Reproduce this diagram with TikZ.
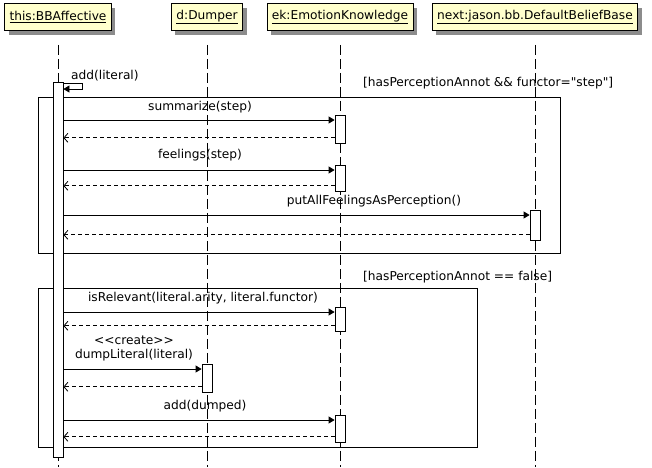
\documentclass[tikz,border=0pt]{standalone}
\usepackage{fontspec}
\newfontfamily\umlfont{DejaVu Sans}
\usetikzlibrary{arrows.meta,shadows}
\definecolor{headfill}{RGB}{255,255,204}

\begin{document}
\begin{tikzpicture}[x=1pt,y=-1pt,
  font=\umlfont\fontsize{12.2}{14}\selectfont,
  head/.style={draw,fill=headfill,line width=0.8pt,minimum height=27pt,inner xsep=5pt,
    drop shadow={shadow xshift=4pt,shadow yshift=-4pt,fill=black!45,opacity=1}},
  lifeline/.style={line width=0.8pt,dash pattern=on 10pt off 4pt},
  bar/.style={draw,fill=white,line width=0.8pt,minimum width=10pt,inner sep=0pt,anchor=north},
  msg/.style={line width=0.8pt,-{Triangle[length=6pt,width=7pt]}},
  ret/.style={line width=0.8pt,dash pattern=on 4pt off 3pt,-{Straight Barb[length=4pt,width=9pt]}},
  frame/.style={draw,line width=0.8pt},
  lbl/.style={inner sep=0pt}]
\useasboundingbox (0,0) rectangle (652,467);
\coordinate (bottom) at (0,467);

\node[head] (thisH) at (58,17) {\underline{this:BBAffective}};
\node[head] (dumpH) at (207,17) {\underline{d:Dumper}};
\node[head] (ekH) at (340,17) {\underline{ek:EmotionKnowledge}};
\node[head] (nextH) at (535,17) {\underline{next:jason.bb.DefaultBeliefBase}};

\foreach \h in {thisH,dumpH,ekH,nextH}
  \draw[lifeline] ([yshift=-14pt]\h.south) -- (\h.south |- bottom);

\draw[frame] (38,97) rectangle (560,253);
\draw[frame] (38,288) rectangle (477,447);
\node[lbl,anchor=west] (cond1) at (363,83) {[hasPerceptionAnnot \&\& functor="step"]};
\node[lbl,anchor=west] (cond2) at (363,277) {[hasPerceptionAnnot == false]};

\node[bar,minimum height=375pt] (thisbar) at (thisH.south |- 0,82) {};
\node[bar,minimum height=28pt] (summ) at (ekH.south |- 0,115) {};
\node[bar,minimum height=26pt] (feel) at (ekH.south |- 0,165) {};
\node[bar,minimum height=30pt] (puta) at (nextH.south |- 0,210) {};
\node[bar,minimum height=24pt] (isrel) at (ekH.south |- 0,307) {};
\node[bar,minimum height=28pt] (dump) at (dumpH.south |- 0,364) {};
\node[bar,minimum height=27pt] (addd) at (ekH.south |- 0,415) {};

\draw[msg] ([yshift=-1pt]thisbar.north east) -- ++(19,0) -- ++(0,6) -- ([yshift=-7pt]thisbar.north east);
\node[lbl,anchor=west] (selfl) at (71,76) {add(literal)};

\foreach \n in {summ,feel,puta,isrel,dump,addd}{
  \coordinate (\n-in) at ([yshift=-5pt]\n.north west);
  \coordinate (\n-out) at ([yshift=6pt]\n.south west);
  \draw[msg] (thisbar.east |- \n-in) -- (\n-in);
  \draw[ret] (\n-out) -- (thisbar.east |- \n-out);
}

\node[lbl] (summl) at (200,107) {summarize(step)};
\node[lbl] (feell) at (200,155) {feelings(step)};
\node[lbl] (putal) at (374,201) {putAllFeelingsAsPerception()};
\node[lbl] (isrell) at (203,298) {isRelevant(literal.arity, literal.functor)};
\node[lbl,align=center] (dumpl) at (134,348) {<{}<create>{}>\\dumpLiteral(literal)};
\node[lbl] (adddl) at (205,406) {add(dumped)};
\end{tikzpicture}
\end{document}
